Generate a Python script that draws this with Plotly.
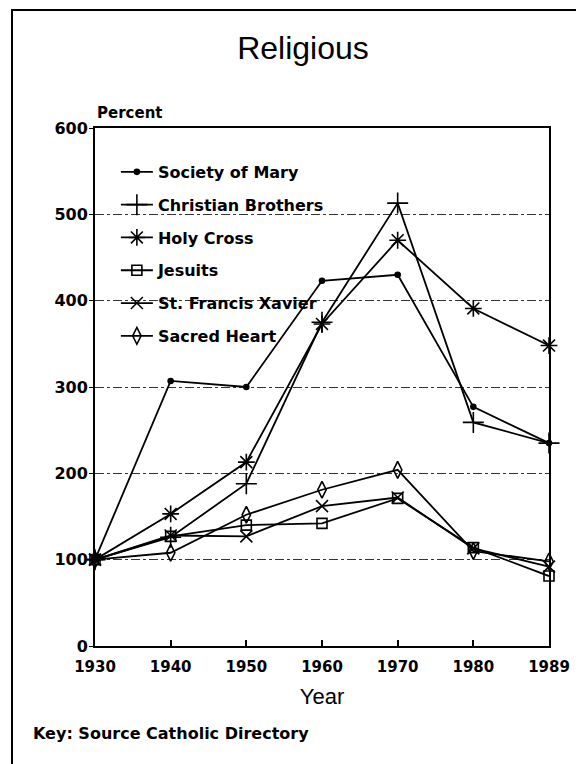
import plotly.graph_objects as go

years = ["1930", "1940", "1950", "1960", "1970", "1980", "1989"]
society_of_mary = [100, 307, 300, 423, 430, 277, 235]
christian_brothers = [100, 126, 188, 375, 513, 259, 235]
holy_cross = [100, 153, 213, 373, 470, 391, 348]
jesuits = [100, 127, 140, 142, 171, 114, 81]
st_francis_xavier = [100, 128, 127, 162, 172, 113, 92]
sacred_heart = [100, 108, 152, 181, 204, 110, 98]

series = [
    ("Society of Mary", society_of_mary, "circle", 5),
    ("Christian Brothers", christian_brothers, "cross-thin-open", 15),
    ("Holy Cross", holy_cross, "asterisk-open", 14),
    ("Jesuits", jesuits, "square-open", 10),
    ("St. Francis Xavier", st_francis_xavier, "x-thin-open", 12),
    ("Sacred Heart", sacred_heart, "diamond-tall-open", 12),
]

BOLD = "DejaVu Sans, Arial, sans-serif"
REG = "Liberation Sans, Arial, sans-serif"
OFF = 8  # page body margin in the browser
W, H = 584 - OFF, 764 - OFF
fig = go.Figure()
for i, (name, vals, sym, sz) in enumerate(series):
    fig.add_trace(go.Scatter(
        x=years, y=vals, name=name, mode="lines+markers",
        legendgroup=f"g{i}",
        line=dict(color="black", width=1.8),
        marker=dict(symbol=sym, size=sz, color="black",
                    line=dict(color="black", width=1.6)),
        cliponaxis=False,
    ))

fig.update_layout(
    width=W, height=H,
    paper_bgcolor="white", plot_bgcolor="white",
    margin=dict(l=95 - OFF, r=W - (549 - OFF), t=128 - OFF, b=H - (646 - OFF),
                autoexpand=False),
    font=dict(family=REG, color="black"),
    title=dict(text="Religious", x=(303 - OFF) / W, xanchor="center",
               y=1 - (48 - OFF) / H, yanchor="middle",
               font=dict(size=32, family=REG, color="black")),
    legend=dict(x=0.046, y=0.948, xanchor="left", yanchor="top",
                bgcolor="rgba(0,0,0,0)", tracegroupgap=9, itemwidth=32,
                font=dict(size=16, family=BOLD, weight="bold", color="black")),
    showlegend=True,
)
fig.update_xaxes(
    type="category", range=[0, 6], showline=True, linecolor="black", linewidth=2,
    mirror=True, ticks="inside", ticklen=6, tickcolor="black", tickwidth=1.5,
    showgrid=False, automargin=False, ticklabelstandoff=6,
    tickfont=dict(size=15, family=BOLD, weight="bold", color="black"),
    title=dict(text="Year", font=dict(size=22, family=REG, color="black"), standoff=14),
)
fig.update_yaxes(
    range=[0, 600], dtick=100, showline=True, linecolor="black", linewidth=2,
    mirror=True, ticks="outside", ticklen=4, tickcolor="black",
    showgrid=True, gridcolor="#333", gridwidth=1, griddash="dashdot",
    zeroline=False, automargin=False, ticklabelstandoff=-2,
    tickfont=dict(size=16, family=BOLD, weight="bold", color="black"),
)
fig.add_annotation(text="Percent", x=0, xref="paper", y=1, yref="paper",
                   xanchor="left", yanchor="bottom", yshift=4, showarrow=False,
                   font=dict(size=15, family=BOLD, weight="bold", color="black"))
fig.add_annotation(text="Key: Source Catholic Directory", x=(31 - 95) / 454, xref="paper",
                   y=(646 - 733) / 518, yref="paper", xanchor="left", yanchor="middle",
                   showarrow=False,
                   font=dict(size=16, family=BOLD, weight="bold", color="black"))
fig.add_shape(type="rect", xref="paper", yref="paper",
              x0=(12 - 95) / 454, x1=(580 - 95) / 454,
              y0=(646 - 790) / 518, y1=(646 - 10) / 518,
              line=dict(color="black", width=2), layer="below")
fig.write_html("out.html")
